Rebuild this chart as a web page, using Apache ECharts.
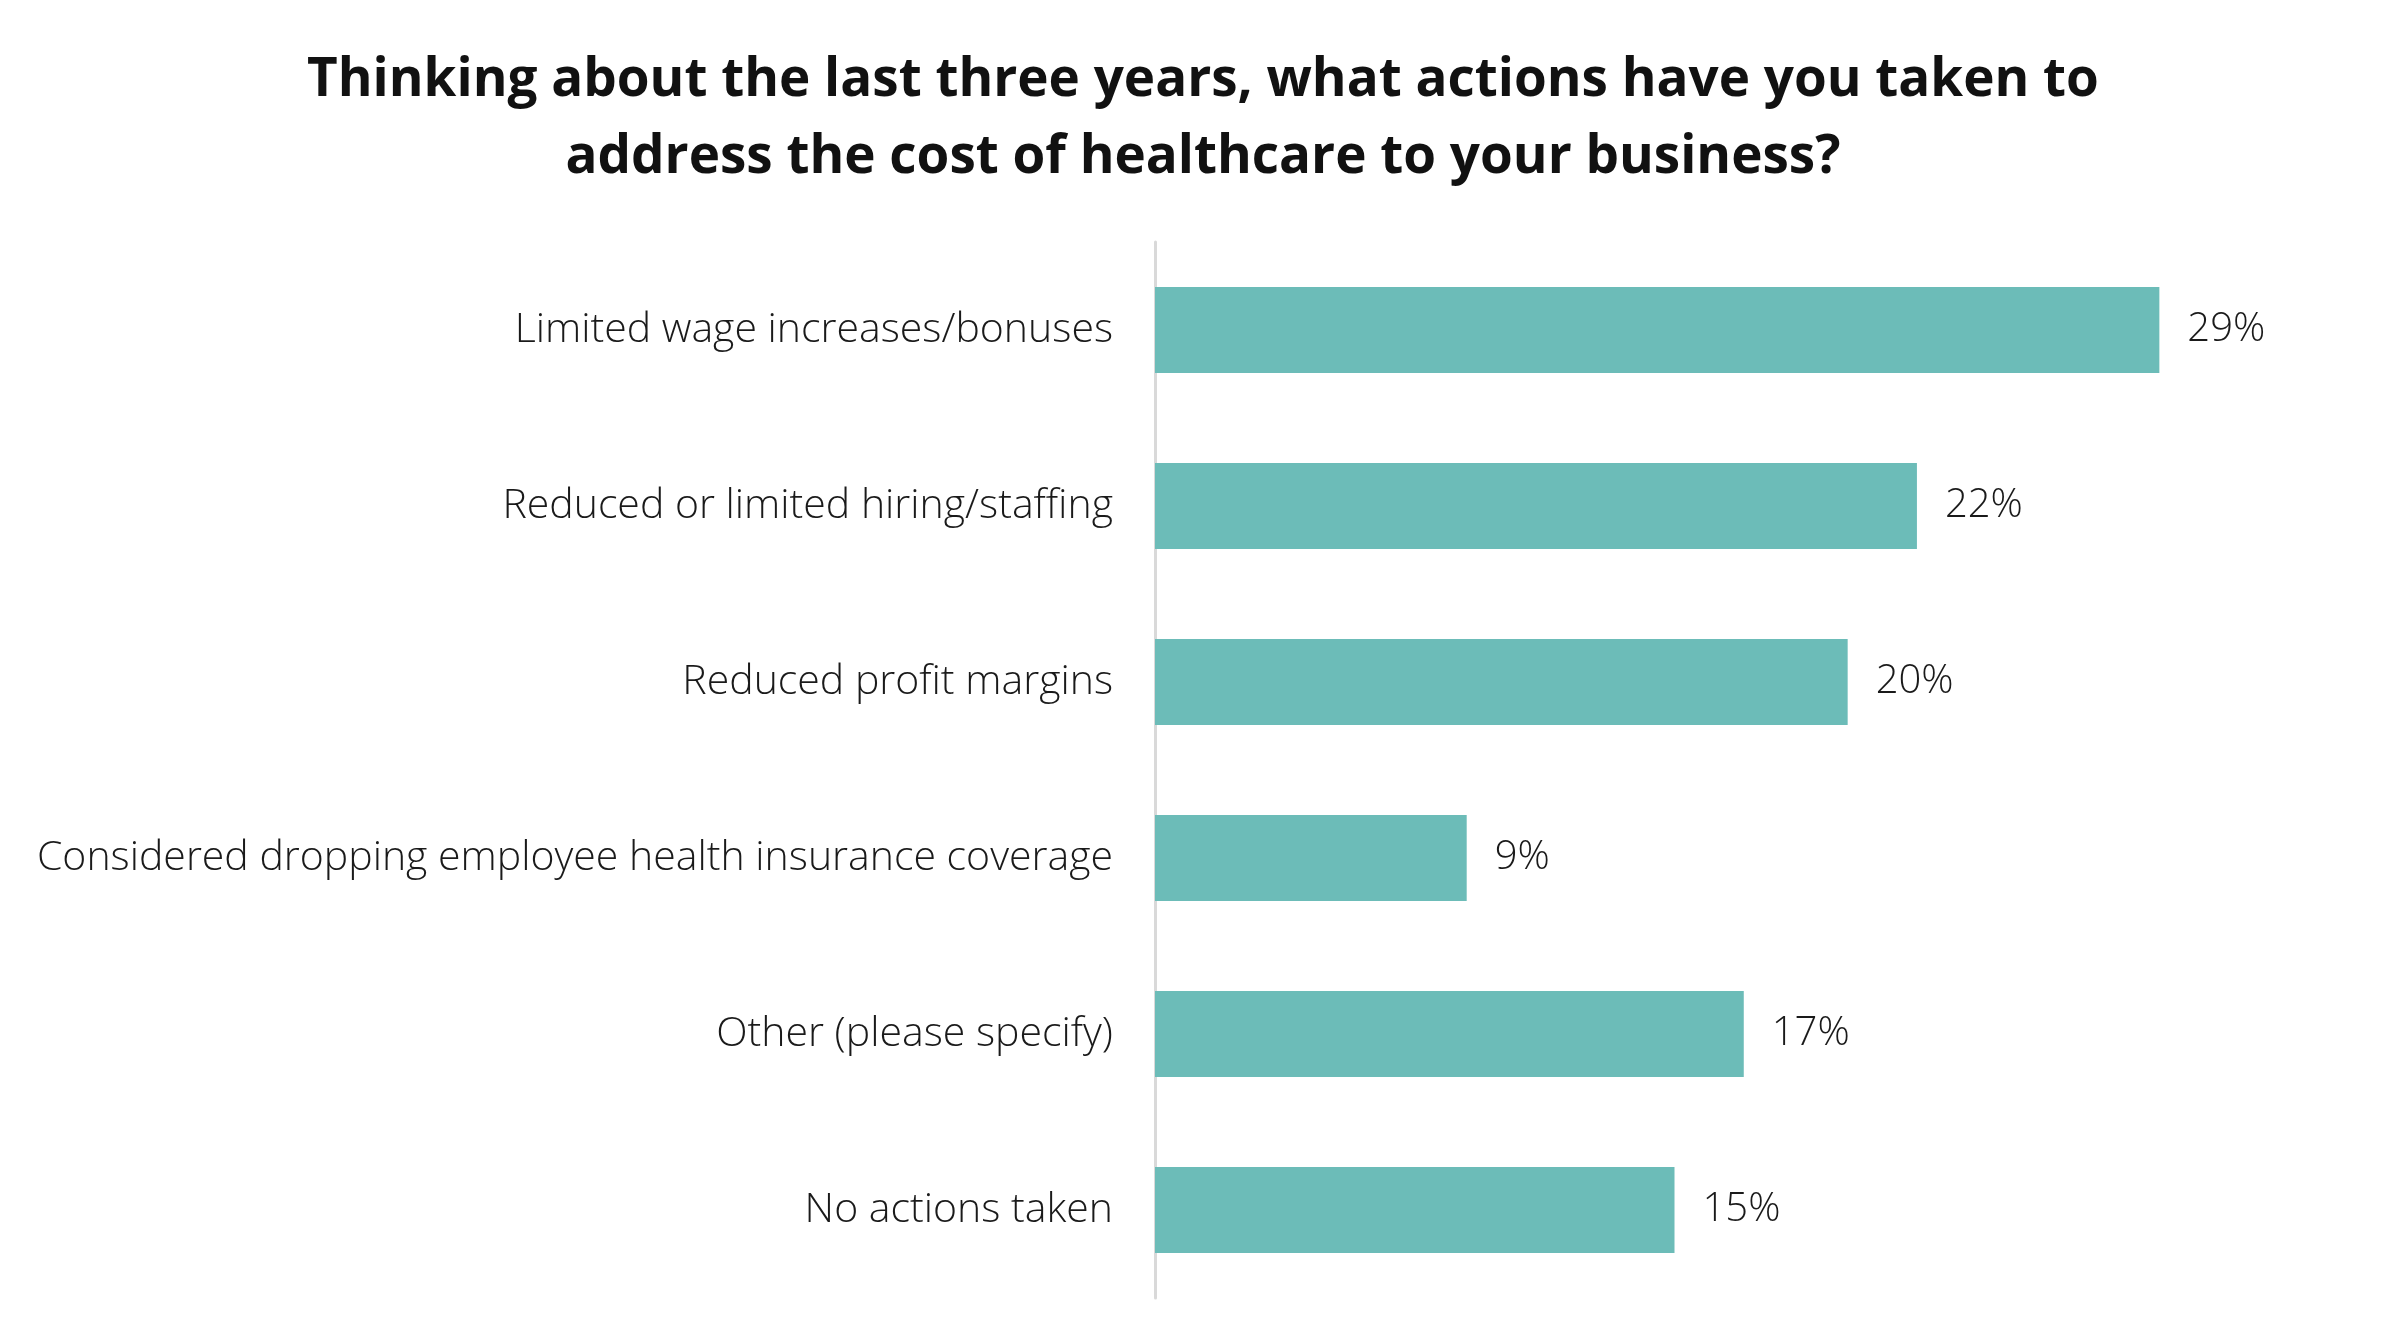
<!DOCTYPE html>
<html>
<head>
<meta charset="utf-8">
<script src="https://cdn.jsdelivr.net/npm/echarts@6/dist/echarts.min.js"></script>
<style>
html,body{margin:0;padding:0;background:#fff;}
#chart{width:2406px;height:1344px;}
</style>
</head>
<body>
<div id="chart"></div>
<script>
const titleText = "Thinking about the last three years, what actions have you taken to\naddress the cost of healthcare to your business?";
const categories = [
  "Limited wage increases/bonuses",
  "Reduced or limited hiring/staffing",
  "Reduced profit margins",
  "Considered dropping employee health insurance coverage",
  "Other (please specify)",
  "No actions taken"
];
const values = [29, 22, 20, 9, 17, 15];

const chart = echarts.init(document.getElementById('chart'));
chart.setOption({
  backgroundColor: '#ffffff',
  animation: false,
  title: {
    text: titleText,
    left: 'center',
    top: 37,
    textStyle: {
      fontFamily: 'Open Sans',
      fontSize: 53,
      fontWeight: 'bold',
      color: '#111111',
      lineHeight: 77,
      align: 'center'
    }
  },
  grid: { left: 1155, right: 212, top: 242, bottom: 46, containLabel: false },
  xAxis: {
    type: 'value', min: 0, max: 30, show: false,
    splitLine: { show: false }
  },
  yAxis: {
    type: 'category',
    data: categories,
    inverse: true,
    axisLine: { show: true, lineStyle: { color: '#d9d9d9', width: 3 } },
    axisTick: { show: false },
    axisLabel: {
      margin: 42,
      fontFamily: 'Open Sans',
      fontWeight: 300,
      fontSize: 41,
      color: '#1a1a1a'
    }
  },
  series: [{
    type: 'bar',
    data: values,
    barWidth: 86,
    itemStyle: { color: '#6cbcb8' },
    label: {
      show: true,
      position: 'right',
      distance: 28,
      formatter: p => p.value + '%',
      fontFamily: 'Open Sans',
      fontWeight: 300,
      fontSize: 40,
      color: '#1a1a1a'
    }
  }]
});
</script>
</body>
</html>
